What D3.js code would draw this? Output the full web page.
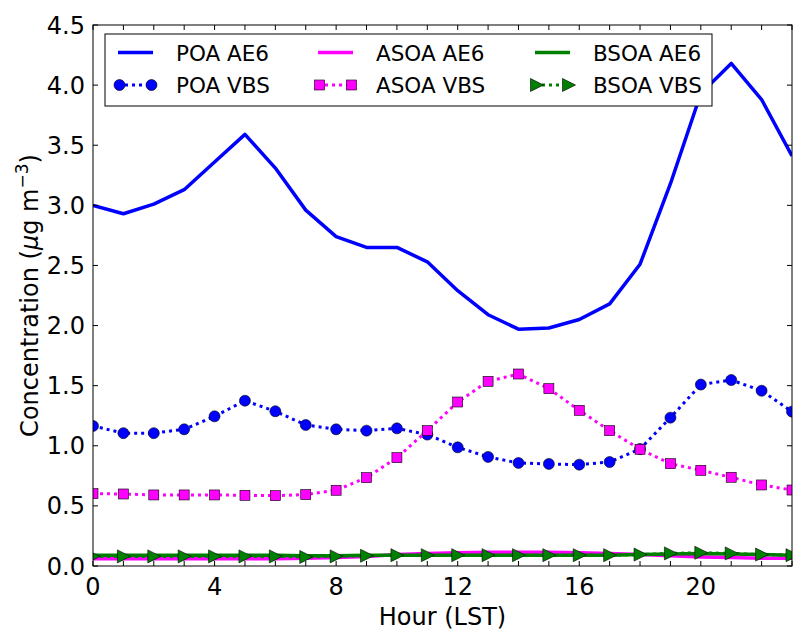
<!DOCTYPE html>
<html><head><meta charset="utf-8">
<script src="https://cdn.jsdelivr.net/npm/d3@7"></script>
<style>body{margin:0;background:#fff}svg{display:block;font-family:"DejaVu Sans",sans-serif}</style>
</head><body><svg id="c" width="793" height="632"></svg>
<script>
const hours = d3.range(0,24);
const poaAE6  = [3.00,2.93,3.01,3.13,3.36,3.59,3.31,2.96,2.74,2.65,2.65,2.53,2.29,2.09,1.97,1.98,2.05,2.18,2.51,3.18,3.93,4.18,3.88,3.41];
const poaVBS  = [1.165,1.105,1.105,1.137,1.245,1.375,1.287,1.173,1.137,1.126,1.145,1.093,0.987,0.907,0.857,0.849,0.843,0.865,0.973,1.234,1.509,1.547,1.458,1.284];
const asoaAE6 = [0.06,0.06,0.06,0.06,0.06,0.06,0.06,0.065,0.07,0.08,0.095,0.105,0.11,0.115,0.115,0.115,0.11,0.105,0.095,0.085,0.075,0.07,0.065,0.065];
const asoaVBS = [0.602,0.599,0.591,0.591,0.591,0.588,0.585,0.594,0.630,0.735,0.901,1.126,1.364,1.536,1.597,1.475,1.295,1.126,0.971,0.851,0.796,0.738,0.674,0.632];
const bsoaAE6 = [0.09,0.09,0.09,0.09,0.09,0.09,0.09,0.085,0.085,0.09,0.09,0.09,0.09,0.09,0.09,0.09,0.09,0.09,0.095,0.10,0.105,0.10,0.095,0.09];
const bsoaVBS = [0.08,0.08,0.08,0.08,0.08,0.08,0.08,0.075,0.08,0.085,0.09,0.09,0.09,0.09,0.09,0.09,0.09,0.09,0.095,0.105,0.11,0.105,0.095,0.09];
const xTicks = [0,4,8,12,16,20];
const yTicks = [0,0.5,1,1.5,2,2.5,3,3.5,4,4.5];
const legendLabels = ["POA AE6","POA VBS","ASOA AE6","ASOA VBS","BSOA AE6","BSOA VBS"];

const L=93,R=792,T=25,B=566;
const svg=d3.select("#c");
const x=d3.scaleLinear().domain([0,23]).range([L,R]);
const y=d3.scaleLinear().domain([0,4.5]).range([B,T]);

svg.append("defs").append("clipPath").attr("id","clip").append("rect")
  .attr("x",L).attr("y",T).attr("width",R-L).attr("height",B-T);

const series=[
 {v:poaAE6,c:"#0000ff",w:3.5,d:null,m:null},
 {v:poaVBS,c:"#0000ff",w:3,d:"3,4",m:"circle"},
 {v:asoaAE6,c:"#ff00ff",w:3.5,d:null,m:null},
 {v:asoaVBS,c:"#ff00ff",w:3,d:"3,4",m:"square"},
 {v:bsoaAE6,c:"#008000",w:3.5,d:null,m:null},
 {v:bsoaVBS,c:"#008000",w:3,d:"3,4",m:"tri"}
];
function marker(g,type,cx,cy,col){
  if(type==="circle") g.append("circle").attr("cx",cx).attr("cy",cy).attr("r",5.5).attr("fill",col).attr("stroke","#000").attr("stroke-width",0.6);
  else if(type==="square") g.append("rect").attr("x",cx-5).attr("y",cy-5).attr("width",10).attr("height",10).attr("fill",col).attr("stroke","#000").attr("stroke-width",0.6);
  else if(type==="tri") g.append("path").attr("d",`M${cx-6},${cy-6.5}L${cx+7},${cy}L${cx-6},${cy+6.5}Z`).attr("fill",col).attr("stroke","#000").attr("stroke-width",0.6);
}
const plot=svg.append("g").attr("clip-path","url(#clip)");
const line=d3.line().x((d,i)=>x(hours[i])).y(d=>y(d));
series.forEach(s=>{
  const g=plot.append("g");
  g.append("path").attr("d",line(s.v)).attr("fill","none").attr("stroke",s.c).attr("stroke-width",s.w)
   .attr("stroke-dasharray",s.d).attr("stroke-linejoin","round");
  if(s.m) s.v.forEach((v,i)=>marker(g,s.m,x(hours[i]),y(v),s.c));
});

// frame
svg.append("rect").attr("x",L).attr("y",T).attr("width",R-L).attr("height",B-T).attr("fill","none").attr("stroke","#000").attr("stroke-width",1);
// ticks
const tk=svg.append("g").attr("stroke","#000").attr("stroke-width",1);
hours.forEach(h=>{
  tk.append("line").attr("x1",x(h)).attr("x2",x(h)).attr("y1",B).attr("y2",B-5);
  tk.append("line").attr("x1",x(h)).attr("x2",x(h)).attr("y1",T).attr("y2",T+5);
});
yTicks.forEach(v=>{
  tk.append("line").attr("x1",L).attr("x2",L+5).attr("y1",y(v)).attr("y2",y(v));
  tk.append("line").attr("x1",R).attr("x2",R-5).attr("y1",y(v)).attr("y2",y(v));
});
const tl=svg.append("g").attr("font-size",24).attr("fill","#000");
xTicks.forEach(v=>tl.append("text").attr("x",x(v)).attr("y",595).attr("text-anchor","middle").text(v));
yTicks.forEach(v=>tl.append("text").attr("x",85).attr("y",y(v)+8.5).attr("text-anchor","end").text(v.toFixed(1)));
svg.append("text").attr("x",(L+R)/2).attr("y",625).attr("text-anchor","middle").attr("font-size",24).text("Hour (LST)");
const yl=svg.append("text").attr("transform",`translate(38,${(T+B)/2}) rotate(-90)`).attr("text-anchor","middle").attr("font-size",24);
yl.append("tspan").text("Concentration (");
yl.append("tspan").attr("font-style","italic").text("μ");
yl.append("tspan").text("g m");
yl.append("tspan").attr("font-size",17).attr("dy",-10).text("−3");
yl.append("tspan").attr("dy",10).text(")");

// legend
const lg=svg.append("g");
lg.append("rect").attr("x",105).attr("y",34).attr("width",607).attr("height",72).attr("fill","#fff").attr("stroke","#000").attr("stroke-width",1);
const cols=[118,318,535], rows=[52.5,85];
series.forEach((s,i)=>{
  const cx=cols[Math.floor(i/2)], cy=rows[i%2];
  lg.append("line").attr("x1",cx).attr("x2",cx+35).attr("y1",cy).attr("y2",cy).attr("stroke",s.c).attr("stroke-width",s.w).attr("stroke-dasharray",s.d);
  if(s.m){marker(lg,s.m,cx+1.5,cy,s.c);marker(lg,s.m,cx+33.5,cy,s.c);}
  lg.append("text").attr("x",cx+58).attr("y",cy+8).attr("font-size",21.5).text(legendLabels[i]);
});
</script></body></html>
